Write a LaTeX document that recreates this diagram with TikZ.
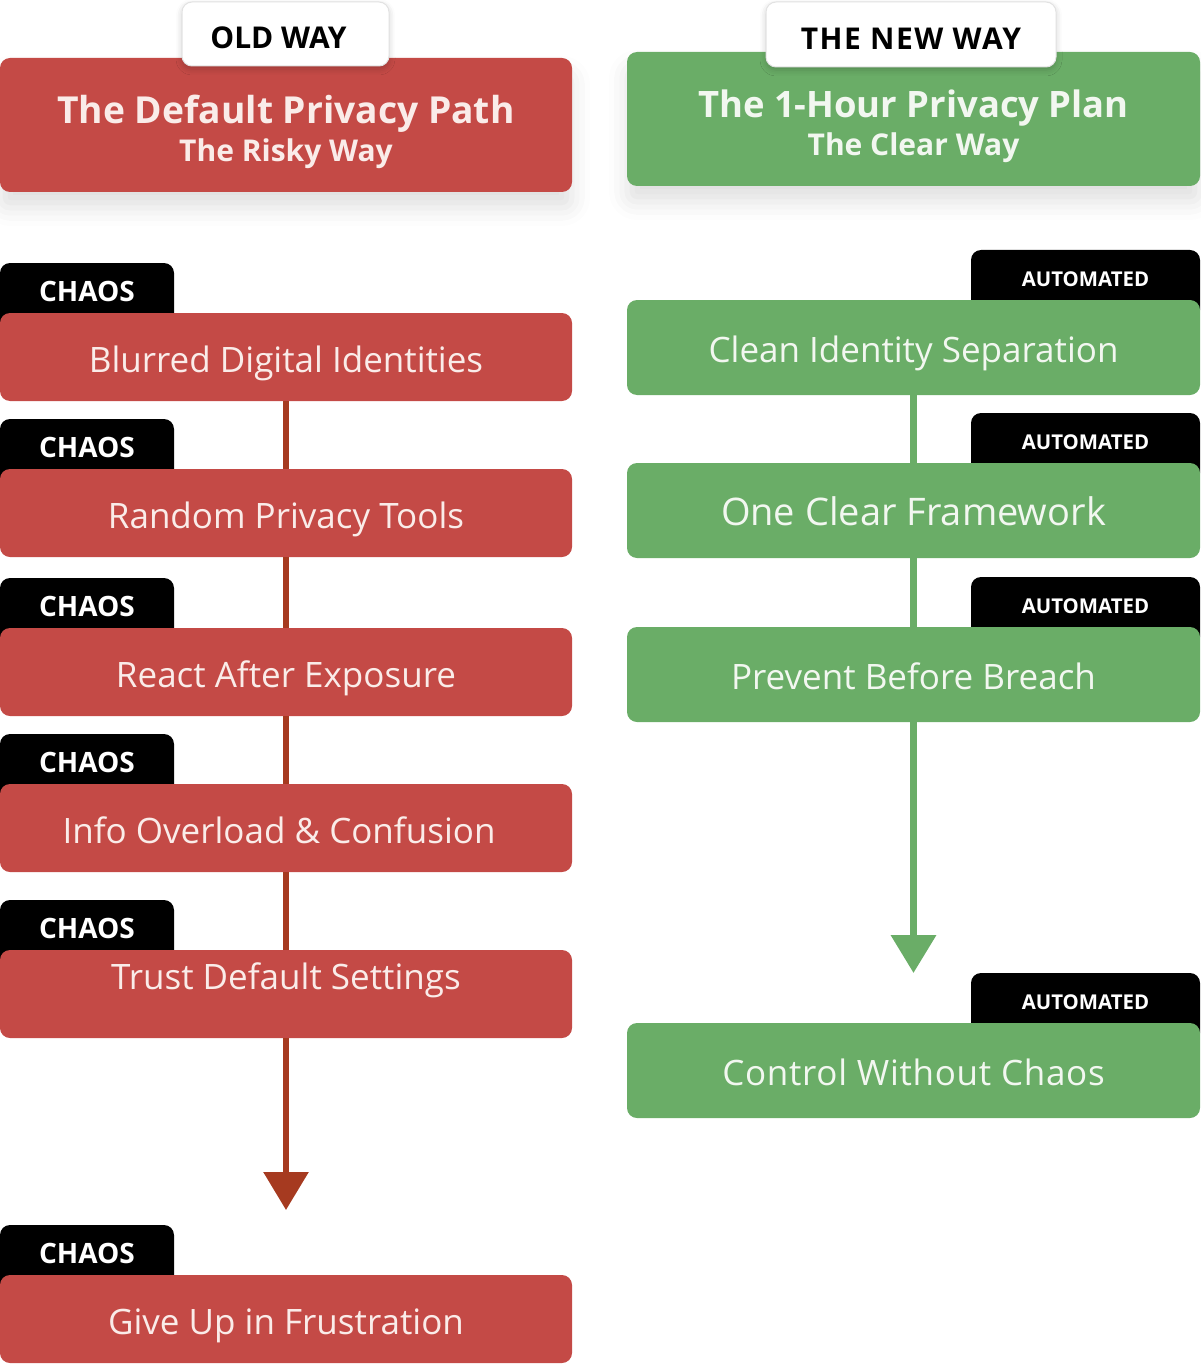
\documentclass[tikz,border=0pt]{standalone}
\usepackage{fontspec}
\setmainfont{Open Sans}
\usetikzlibrary{positioning,arrows.meta,shadows.blur,backgrounds}

\definecolor{riskred}{RGB}{196,74,70}
\definecolor{riskline}{RGB}{166,58,32}
\definecolor{riskink}{RGB}{250,236,233}
\definecolor{cleargreen}{RGB}{106,173,103}
\definecolor{clearink}{RGB}{242,247,240}
\definecolor{tabedge}{RGB}{226,226,226}

\tikzset{
  redbox/.style={fill=riskred,rounded corners=5pt,text=riskink,
    minimum width=286pt,minimum height=44pt,inner sep=0pt,
    text height=15pt,text depth=0pt,font=\fontsize{17.5}{21}\selectfont},
  greenbox/.style={redbox,fill=cleargreen,text=clearink,
    minimum width=286.5pt,minimum height=47.5pt},
  headbox/.style={rounded corners=5pt,minimum width=286pt,minimum height=67pt,
    inner sep=0pt,align=center,font=\bfseries\fontsize{15}{19}\selectfont,
    blur shadow={shadow xshift=0pt,shadow yshift=-8pt,shadow blur radius=9pt,shadow opacity=12}},
  waytab/.style={fill=white,draw=tabedge,line width=0.5pt,rounded corners=5pt,
    minimum height=32pt,inner sep=0pt,text height=14.5pt,text depth=0pt,
    font=\bfseries\fontsize{15}{18}\selectfont,
    blur shadow={shadow xshift=0pt,shadow yshift=-1.5pt,shadow blur radius=3pt,shadow opacity=20}},
  chaostab/.style={fill=black,text=white,rounded corners=5pt,minimum width=87pt,
    inner sep=0pt,text height=19pt,text depth=16pt,
    font=\bfseries\fontsize{14}{16}\selectfont},
  autotab/.style={chaostab,minimum width=114.5pt,text height=18pt,text depth=17pt,
    font=\bfseries\fontsize{10.2}{12}\selectfont},
  riskyline/.style={riskline,line width=3pt},
  clearline/.style={cleargreen,line width=3.5pt},
}
\newcommand{\headstrut}{\rule{0pt}{21pt}}

\begin{document}
\begin{tikzpicture}[x=0.5pt,y=-0.5pt]
    \useasboundingbox (0,0) rectangle (1200,1364);

    % headers
    \node[headbox,fill=riskred,text=riskink] (oldhead) at (286,125)
        {{\fontsize{18.6}{19}\selectfont\headstrut The Default Privacy Path}\\The Risky Way};
    \node[headbox,fill=cleargreen,text=clearink,minimum width=286.5pt] (newhead) at (913.5,119)
        {{\fontsize{18.2}{19}\selectfont\headstrut The 1-Hour Privacy Plan}\\The Clear Way};
    \node[waytab,minimum width=103.5pt] (oldtab) at (285.5,34) {OLD WAY\hspace*{7pt}};
    \node[waytab,minimum width=145pt,minimum height=32.5pt,text height=15pt] (newtab) at (911,34.5)
        {\addfontfeature{LetterSpace=5}THE NEW WAY};

    % old way
    \node[redbox] (r1) at (286,357) {Blurred Digital Identities};
    \node[redbox] (r2) at (286,513) {Random Privacy Tools};
    \node[redbox] (r3) at (286,672) {React After Exposure};
    \node[redbox] (r4) at (286,828) {Info Overload \& Confusion\hspace*{7pt}};
    \node[redbox,text depth=19.5pt] (r5) at (286,994) {Trust Default Settings};
    \node[redbox] (r6) at (286,1319) {Give Up in Frustration};
    \coordinate (oldend) at (286,1210);

    % new way
    \node[greenbox] (g1) at (913.5,347.5) {Clean Identity Separation};
    \node[greenbox,font=\fontsize{19}{22}\selectfont] (g2) at (913.5,510.5) {One Clear Framework};
    \node[greenbox] (g3) at (913.5,674.5) {Prevent Before Breach};
    \node[greenbox] (g4) at (913.5,1070.5) {\addfontfeature{LetterSpace=2}Control Without Chaos};
    \coordinate (newend) at (913.5,973);

    \begin{scope}[on background layer]
        \node[chaostab,anchor=north west] (c1) at ([yshift=25pt]r1.north west) {CHAOS};
        \node[chaostab,anchor=north west] (c2) at ([yshift=25pt]r2.north west) {CHAOS};
        \node[chaostab,anchor=north west] (c3) at ([yshift=25pt]r3.north west) {CHAOS};
        \node[chaostab,anchor=north west] (c4) at ([yshift=25pt]r4.north west) {CHAOS};
        \node[chaostab,anchor=north west] (c5) at ([yshift=25pt]r5.north west) {CHAOS};
        \node[chaostab,anchor=north west] (c6) at ([yshift=25pt]r6.north west) {CHAOS};

        \node[autotab,anchor=north east] (a1) at ([yshift=25pt]g1.north east) {AUTOMATED};
        \node[autotab,anchor=north east] (a2) at ([yshift=25pt]g2.north east) {AUTOMATED};
        \node[autotab,anchor=north east] (a3) at ([yshift=25pt]g3.north east) {AUTOMATED};
        \node[autotab,anchor=north east] (a4) at ([yshift=25pt]g4.north east) {AUTOMATED};
    \end{scope}

    \draw[riskyline] (r1) -- (r2);
    \draw[riskyline] (r2) -- (r3);
    \draw[riskyline] (r3) -- (r4);
    \draw[riskyline] (r4) -- (r5);
    \draw[riskyline,-{Triangle[width=22pt,length=19pt]}] (r5) -- (oldend);

    \draw[clearline] (g1) -- (g2);
    \draw[clearline] (g2) -- (g3);
    \draw[clearline,-{Triangle[width=22pt,length=19pt]}] (g3) -- (newend);
\end{tikzpicture}
\end{document}
